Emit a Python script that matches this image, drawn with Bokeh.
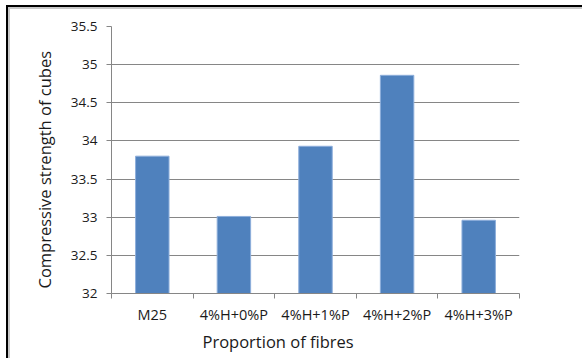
from bokeh.plotting import figure
from bokeh.models import FixedTicker, Title, ColumnDataSource
from bokeh.layouts import column
from bokeh.embed import file_html
from bokeh.resources import INLINE

categories = ["M25", "4%H+0%P", "4%H+1%P", "4%H+2%P", "4%H+3%P"]
strength = [33.80, 33.01, 33.93, 34.86, 32.96]
y_ticks = [32, 32.5, 33, 33.5, 34, 34.5, 35, 35.5]
y_title = "Compressive strength of cubes"
x_title = "Proportion of fibres"

FONT = "Open Sans"
positions = [i + 0.5 for i in range(len(categories))]
source = ColumnDataSource(dict(x=positions, top=strength, cat=categories))

p = figure(width=572, height=349, output_backend="svg", toolbar_location=None,
           x_range=(0, len(categories)), y_range=(32, 35.5),
           min_border_left=101, min_border_right=63, min_border_top=17, min_border_bottom=65)
p.outline_line_color = None
p.background_fill_color = "white"
p.border_fill_color = "white"

p.vbar(x="x", top="top", bottom=32, width=0.41, source=source,
       fill_color="#4F81BD", line_color="#8DAEDB", line_width=1)

# x axis
p.xaxis.ticker = FixedTicker(ticks=positions, minor_ticks=list(range(len(categories) + 1)))
p.xaxis.major_label_overrides = {pos: c for pos, c in zip(positions, categories)}
p.xaxis.major_tick_line_color = None
p.xaxis.major_tick_out = 0
p.xaxis.minor_tick_line_color = "#868686"
p.xaxis.minor_tick_out = 5
p.xaxis.minor_tick_in = 0
p.xaxis.axis_line_color = "#868686"
p.xaxis.major_label_standoff = 6
p.xaxis.major_label_text_font = FONT
p.xaxis.major_label_text_font_size = "14.5px"
p.xaxis.major_label_text_color = "#1a1a1a"

# y axis
p.yaxis.ticker = FixedTicker(ticks=y_ticks)
p.yaxis.major_label_overrides = {t: ("%g" % t) for t in y_ticks}
p.yaxis.axis_line_color = "#868686"
p.yaxis.major_tick_line_color = "#868686"
p.yaxis.major_tick_out = 5
p.yaxis.major_tick_in = 0
p.yaxis.minor_tick_line_color = None
p.yaxis.major_label_standoff = 9
p.yaxis.major_label_text_font = FONT
p.yaxis.major_label_text_font_size = "13.5px"
p.yaxis.major_label_text_color = "#1a1a1a"

p.xgrid.grid_line_color = None
p.ygrid.grid_line_color = "#868686"
p.ygrid.grid_line_width = 1

# axis titles
p.add_layout(Title(text=y_title, align="left", offset=5, standoff=24, text_font=FONT,
                   text_font_size="16.5px", text_font_style="normal",
                   text_color="#1a1a1a"), "left")
p.add_layout(Title(text=x_title, align="left", offset=91, standoff=2, text_font=FONT,
                   text_font_size="16.5px", text_font_style="normal",
                   text_color="#1a1a1a"), "below")

inner = column(p, styles={"border-left": "2px solid #c8c8c8", "border-top": "2px solid #c8c8c8"})
outer = column(inner, styles={"border-left": "2px solid black", "border-top": "2px solid black",
                              "margin-left": "6px", "margin-top": "5px"})

open("out.html", "w").write(file_html(outer, INLINE))
